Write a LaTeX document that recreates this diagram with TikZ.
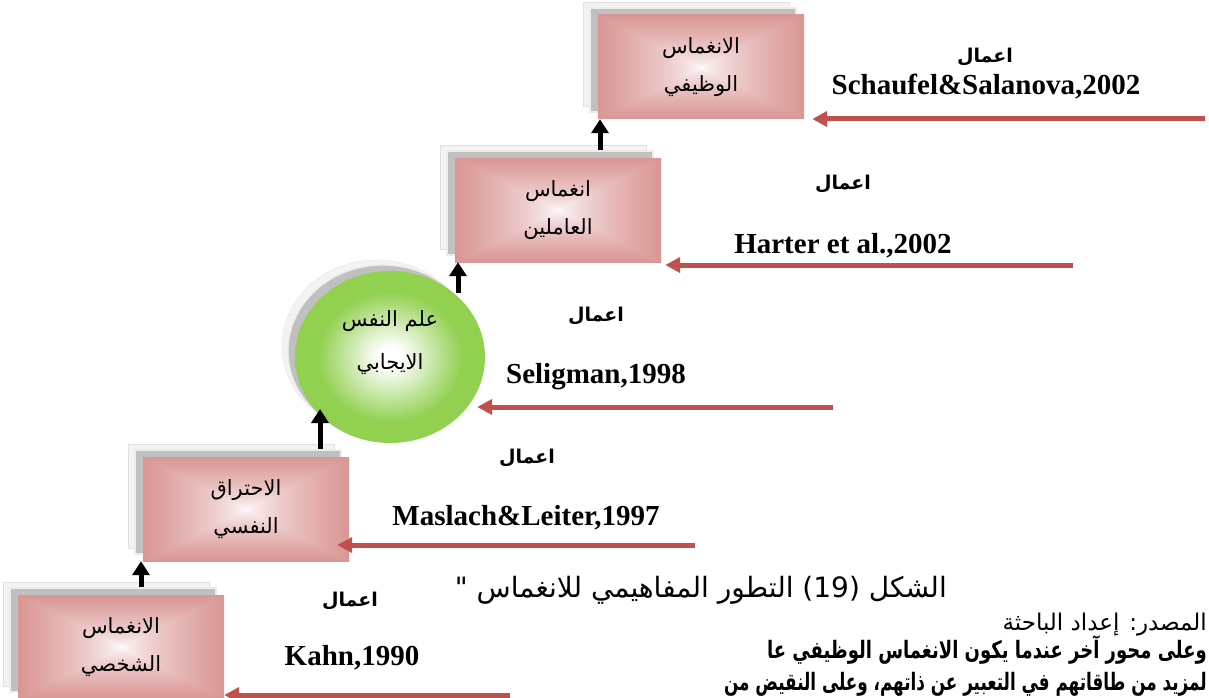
\documentclass[tikz,border=0pt]{standalone}
\usepackage{fontspec}
\setmainfont{Liberation Serif}
\newfontfamily\arabicfont[Script=Arabic]{DejaVu Sans}
\TeXXeTstate=1
\usetikzlibrary{arrows.meta,shapes.geometric}

\definecolor{boxred}{RGB}{217,150,148}
\definecolor{arrowred}{RGB}{192,80,77}
\definecolor{ballgreen}{RGB}{146,208,80}
\definecolor{shadowgray}{RGB}{192,192,192}
\definecolor{shadowlight}{RGB}{243,243,243}

% white centre fading out to rose towards the rectangle's edges
\pgfdeclarefunctionalshading{rectglow}{\pgfpoint{-50bp}{-50bp}}{\pgfpoint{50bp}{50bp}}{}{
  abs exch abs 2 copy lt {exch} if pop 25 div dup 1 gt {pop 1} if 0.65 exp
  dup dup 0.149 mul 1 exch sub 3 1 roll 0.412 mul 1 exch sub exch 0.42 mul 1 exch sub
}
\pgfdeclareradialshading{ballglow}{\pgfpoint{0bp}{0bp}}{color(0bp)=(white); color(3bp)=(white); color(19bp)=(ballgreen); color(50bp)=(ballgreen)}

\tikzset{
  layer/.style={minimum width=206pt, minimum height=104pt, inner sep=0pt},
  lightlayer/.style={layer, fill=shadowlight, draw=black!12, line width=0.8pt},
  graylayer/.style={layer, fill=shadowgray, draw=white!70!shadowgray, line width=1.2pt},
  redbox/.style={layer, shading=rectglow, align=center,
    font=\arabicfont\fontsize{21}{38}\selectfont},
  ballshadow/.style={ellipse, minimum width=190pt, minimum height=172pt, inner sep=0pt},
  ball/.style={ballshadow, shading=ballglow},
  balltext/.style={align=center, font=\arabicfont\fontsize{21}{43}\selectfont},
  worklabel/.style={font=\arabicfont\bfseries\fontsize{19}{22}\selectfont, inner sep=0pt},
  citelabel/.style={font=\bfseries\fontsize{29}{34}\selectfont, inner sep=0pt, anchor=base},
  uparrow/.style={line width=5pt, -{Triangle[width=17pt,length=14pt]}},
  redarrow/.style={draw=arrowred, line width=5pt, -{Triangle[width=15pt,length=15pt]}},
  bodytext/.style={inner sep=0pt, anchor=base east},
  boldbody/.style={bodytext, font=\arabicfont\bfseries\fontsize{24}{28}\selectfont},
}

\begin{document}
\begin{tikzpicture}[x=1pt,y=-1pt]
\useasboundingbox (0,0) rectangle (1209,698);
\clip (0,0) rectangle (1209,698);
\fill[white] (0,0) rectangle (1209,698);

% ---- stacked boxes -------------------------------------------------
\node[lightlayer] (b1l) at (686,54) {};
\node[graylayer]  (b1g) at (693,60) {};
\node[redbox]     (b1)  at (701,67) {\beginR الانغماس\endR\\\beginR الوظيفي\endR};

\node[lightlayer] (b2l) at (543,197) {};
\node[graylayer]  (b2g) at (550,203) {};
\node[redbox]     (b2)  at (558,210) {\beginR انغماس\endR\\\beginR العاملين\endR};

\node[lightlayer] (b4l) at (231,496) {};
\node[graylayer]  (b4g) at (238,502) {};
\node[redbox]     (b4)  at (246,509) {\beginR الاحتراق\endR\\\beginR النفسي\endR};

\node[lightlayer] (b5l) at (106,634) {};
\node[graylayer]  (b5g) at (113,640) {};
\node[redbox]     (b5)  at (121,647) {\beginR الانغماس\endR\\\beginR الشخصي\endR};

% ---- the circle ----------------------------------------------------
\node[ballshadow, fill=shadowlight, draw=black!10] (cl) at (377,346) {};
\node[ballshadow, fill=shadowgray, draw=white!70!shadowgray, line width=1.2pt] (cg) at (383,351) {};
\node[ball] (c) at (390,357) {};
\node[balltext] (ct) at (390,343) {\beginR علم النفس\endR\\\beginR الايجابي\endR};

% ---- upward black arrows -------------------------------------------
\coordinate (ax1) at (141,0);
\coordinate (ax4) at (600,0);
\coordinate (t2)  at (320,409);
\coordinate (s3)  at (458,293);
\draw[uparrow] (b5g.north -| ax1) -- (b4.south -| ax1);
\draw[uparrow] (b4g.north -| t2) -- (t2);
\draw[uparrow] (s3) -- (s3 |- b2.south);
\draw[uparrow] (b2g.north -| ax4) -- (b1.south -| ax4);

% ---- incoming red arrows -------------------------------------------
\coordinate (r1) at (1205,119);
\coordinate (r2) at (1073,265);
\coordinate (r3) at (833,407);
\coordinate (r4) at (695,545);
\coordinate (r5) at (510,695);
\draw[redarrow, shorten >=8pt]  (r1) -- (r1 -| b1.east);
\draw[redarrow, shorten >=4pt]  (r2) -- (r2 -| b2.east);
\draw[redarrow, shorten >=-8pt] (r3) -- (r3 -| c.east);
\draw[redarrow, shorten >=-12pt] (r4) -- (r4 -| b4.east);
\draw[redarrow] (r5) -- (r5 -| b5.east);

% ---- contributions -------------------------------------------------
\node[worklabel] (w1) at (985,57)  {\beginR اعمال\endR};
\node[citelabel] (k1) at (986,95)  {Schaufel\&Salanova,2002};
\node[worklabel] (w2) at (843,184) {\beginR اعمال\endR};
\node[citelabel] (k2) at (843,253) {Harter et al.,2002};
\node[worklabel] (w3) at (596,316) {\beginR اعمال\endR};
\node[citelabel] (k3) at (596,383) {Seligman,1998};
\node[worklabel] (w4) at (527,458) {\beginR اعمال\endR};
\node[citelabel] (k4) at (526,525) {Maslach\&Leiter,1997};
\node[worklabel] (w5) at (350,601) {\beginR اعمال\endR};
\node[citelabel] (k5) at (352,665) {Kahn,1990};

% ---- caption and running text --------------------------------------
\node[bodytext, font=\arabicfont\fontsize{28}{32}\selectfont] (cap) at (947,597)
  {\beginR الشكل (19) التطور المفاهيمي للانغماس "\endR};
\node[bodytext, font=\arabicfont\fontsize{23}{26}\selectfont] (src) at (1207,630)
  {\beginR المصدر: إعداد الباحثة\endR};
\node[boldbody] (p1) at (1207,658)
  {\scalebox{0.75}[1]{\beginR وعلى محور آخر عندما يكون الانغماس الوظيفي عا\endR}};
\node[boldbody] (p2) at (1207,690)
  {\scalebox{0.70}[1]{\beginR لمزيد من طاقاتهم في التعبير عن ذاتهم، وعلى النقيض من\endR}};
\end{tikzpicture}
\end{document}
